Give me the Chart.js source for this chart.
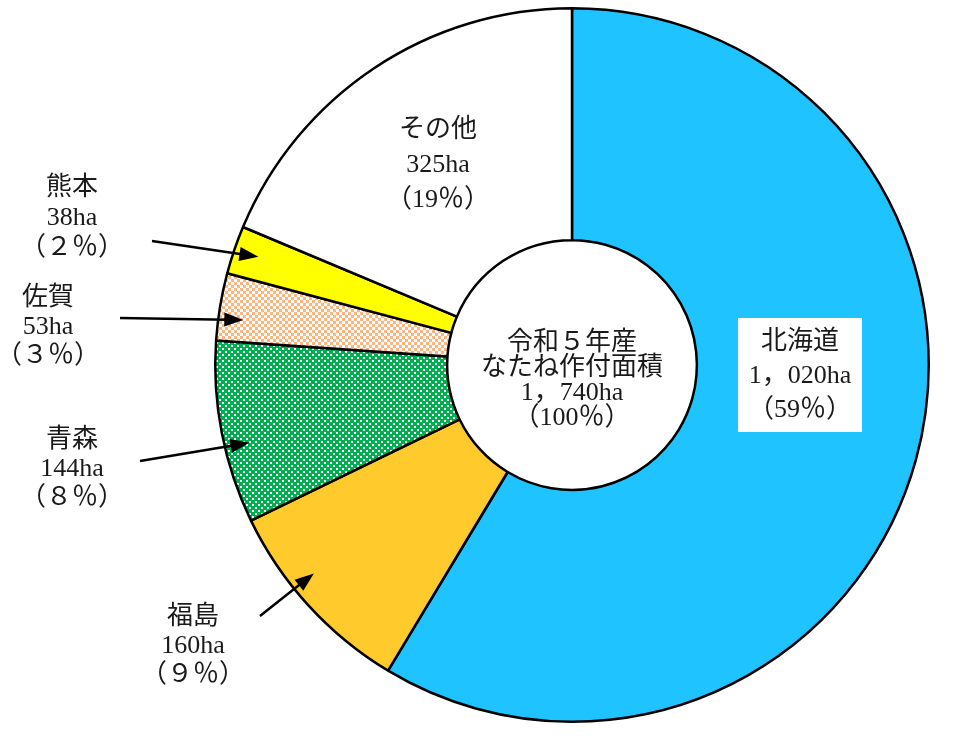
<!DOCTYPE html>
<html>
<head>
<meta charset="utf-8">
<script src="https://cdn.jsdelivr.net/npm/chart.js@4.4.1/dist/chart.umd.min.js"></script>
<style>
  html, body { margin: 0; background: #fff; }
</style>
</head>
<body>
<canvas id="chart_nataneArea" width="960" height="736"></canvas>
<script>
// 令和5年産 なたね作付面積 (ha)
const prefectures = ['北海道', '福島', '青森', '佐賀', '熊本', 'その他'];
const areas = [1020, 160, 144, 53, 38, 325];
const areaLabels = ['1，020ha', '160ha', '144ha', '53ha', '38ha', '325ha'];
const shareLabels = ['（59％）', '（９％）', '（８％）', '（３％）', '（２％）', '（19％）'];
const centerLines = ['令和５年産', 'なたね作付面積', '1，740ha', '（100％）'];

// hatch fills
function makePattern(w, h, draw) {
    const c = document.createElement('canvas');
    c.width = w;
    c.height = h;
    draw(c.getContext('2d'));
    return c.getContext('2d').createPattern(c, 'repeat');
}

const peach = makePattern(24, 24, g => {
    g.fillStyle = '#fff';
    g.fillRect(0, 0, 24, 24);
    g.fillStyle = '#fdb47e';
    for (let i = 0; i < 8; i++) {
        for (let j = 0; j < 8; j++) {
            if ((i + j) % 2 === 0) g.fillRect(i * 3, j * 3, 3, 3);
        }
    }
    // white plus
    g.fillStyle = '#fff';
    g.fillRect(9, 12, 3, 3);
    g.fillRect(15, 12, 3, 3);
    g.fillRect(12, 9, 3, 3);
    g.fillRect(12, 15, 3, 3);
});

const green = makePattern(6, 6, g => {
    g.fillStyle = '#00b050';
    g.fillRect(0, 0, 6, 6);
    g.fillStyle = '#fff';
    g.fillRect(0, 0, 2, 2);
    g.fillRect(3, 3, 2, 2);
});

const colors = ['#1fc3ff', '#ffca2c', green, peach, '#ffff00', '#ffffff'];

// where the outside labels sit (text centre, first line) and where arrows start
const calloutLayout = [
    null,
    { x: 193, y: 617, gap: 29, tail: [260, 616], shift: 3.5 },
    { x: 72, y: 440, gap: 29, tail: [140, 461], shift: -2.6 },
    { x: 48, y: 298, gap: 29, tail: [120, 318], shift: -1.6 },
    { x: 72, y: 188, gap: 30, tail: [152, 241], shift: 0.2 },
    { x: 438, y: 130, gap: 35 },
];

const fontStack = '26px "Liberation Serif", "Noto Sans CJK JP", serif';
const textColor = '#1a1a1a';

function drawArrow(ctx, x0, y0, x1, y1) {
    const ang = Math.atan2(y1 - y0, x1 - x0);
    const len = 19, half = 7;
    ctx.strokeStyle = '#000';
    ctx.lineWidth = 2.5;
    ctx.beginPath();
    ctx.moveTo(x0, y0);
    ctx.lineTo(x1 - Math.cos(ang) * len * 0.8, y1 - Math.sin(ang) * len * 0.8);
    ctx.stroke();
    ctx.fillStyle = '#000';
    ctx.beginPath();
    ctx.moveTo(x1, y1);
    ctx.lineTo(x1 - Math.cos(ang) * len - Math.sin(ang) * half, y1 - Math.sin(ang) * len + Math.cos(ang) * half);
    ctx.lineTo(x1 - Math.cos(ang) * len + Math.sin(ang) * half, y1 - Math.sin(ang) * len - Math.cos(ang) * half);
    ctx.closePath();
    ctx.fill();
}

function drawLines(ctx, lines, x, y, gap) {
    lines.forEach((t, i) => ctx.fillText(t, x, y + i * gap));
}

const calloutPlugin = {
    id: 'callouts',
    afterDatasetsDraw(chart) {
        const ctx = chart.ctx;
        const arcs = chart.getDatasetMeta(0).data;
        ctx.save();
        ctx.font = fontStack;
        ctx.fillStyle = textColor;
        ctx.textAlign = 'center';
        ctx.textBaseline = 'middle';

        // 北海道: boxed label inside the slice, right of the hole
        const big = arcs[0];
        const bx = big.x + 228;
        const by = big.y + 10;
        ctx.fillStyle = '#fff';
        ctx.fillRect(bx - 62, by - 57, 124, 114);
        ctx.fillStyle = textColor;
        drawLines(ctx, [prefectures[0], areaLabels[0], shareLabels[0]], bx, by - 33, 34);

        // outside labels
        calloutLayout.forEach((lay, i) => {
            if (!lay) return;
            ctx.fillStyle = textColor;
            drawLines(ctx, [prefectures[i], areaLabels[i], shareLabels[i]], lay.x, lay.y, lay.gap);
            if (lay.tail) {
                const a = arcs[i];
                const mid = (a.startAngle + a.endAngle) / 2 + lay.shift * Math.PI / 180;
                const r = a.outerRadius * 0.93;
                drawArrow(ctx, lay.tail[0], lay.tail[1], a.x + Math.cos(mid) * r, a.y + Math.sin(mid) * r);
            }
        });

        // centre text
        ctx.fillStyle = textColor;
        drawLines(ctx, centerLines, big.x, big.y - 22, 25);
        ctx.restore();
    }
};

const config_natane = {
    type: 'doughnut',
    data: {
        labels: prefectures,
        datasets: [{
            data: areas,
            backgroundColor: colors,
            borderColor: '#000',
            borderWidth: 2.5,
        }]
    },
    options: {
        responsive: false,
        animation: false,
        cutout: '35%',
        layout: {
            padding: { left: 214, right: 30, top: 7, bottom: 13 }
        },
        plugins: {
            legend: { display: false },
            tooltip: { enabled: false }
        }
    },
    plugins: [calloutPlugin]
};

const myChart_natane = new Chart(document.getElementById('chart_nataneArea'), config_natane);
</script>
</body>
</html>
